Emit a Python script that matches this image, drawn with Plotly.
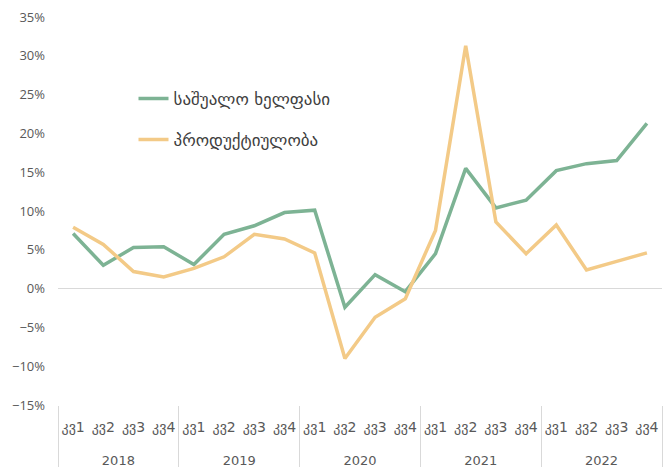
import plotly.graph_objects as go

years = ["2018", "2019", "2020", "2021", "2022"]
quarters = ["კვ1", "კვ2", "კვ3", "კვ4"]
wages = [7.1, 3.0, 5.3, 5.4, 3.1, 7.0, 8.1, 9.8, 10.1, -2.4, 1.8, -0.4,
         4.5, 15.5, 10.4, 11.4, 15.2, 16.1, 16.5, 21.3]
productivity = [7.9, 5.7, 2.2, 1.5, 2.6, 4.1, 7.0, 6.4, 4.6, -9.0, -3.7, -1.3,
                 7.5, 31.3, 8.6, 4.5, 8.2, 2.4, 3.5, 4.6]
name_wages = "საშუალო ხელფასი"
name_prod = "პროდუქტიულობა"

x_outer = ["<br><span style='font-size:13px'>" + y + "</span>" for y in years for _ in quarters]
x_inner = ["<span style='font-size:14px'>" + q + "</span>" for _ in years for q in quarters]

fig = go.Figure()
fig.add_trace(go.Scatter(x=[x_outer, x_inner], y=wages, mode="lines", name=name_wages,
                         line=dict(color="#7DB394", width=3.5), legend="legend"))
fig.add_trace(go.Scatter(x=[x_outer, x_inner], y=productivity, mode="lines", name=name_prod,
                         line=dict(color="#F3CA87", width=3.5), legend="legend2"))

font_fam = "DejaVu Sans, sans-serif"
fig.update_layout(
    width=663, height=467,
    margin=dict(l=58, r=1, t=17, b=62, autoexpand=False),
    plot_bgcolor="white", paper_bgcolor="white",
    font=dict(family=font_fam, color="#595959", size=13),
    legend=dict(x=0.125, y=0.789, xanchor="left", yanchor="middle",
                font=dict(size=17, color="#404040"), bgcolor="rgba(0,0,0,0)"),
    legend2=dict(x=0.125, y=0.683, xanchor="left", yanchor="middle",
                 font=dict(size=17, color="#404040"), bgcolor="rgba(0,0,0,0)"),
    showlegend=True,
)
fig.update_yaxes(range=[-15, 35], dtick=5, ticksuffix="%", showgrid=False,
                 zeroline=True, zerolinecolor="#D9D9D9", zerolinewidth=1,
                 showline=False, automargin=False, ticklabelstandoff=12,
                 tickfont=dict(family="Open Sans, sans-serif", size=13, color="#595959"))
fig.update_xaxes(type="multicategory", range=[-0.5, 19.5], showgrid=False, showline=False,
                 showdividers=True, dividercolor="#D9D9D9", dividerwidth=1,
                 automargin=False, tickangle=0, ticklabelstandoff=8,
                 tickfont=dict(size=18, color="#595959"), ticks="")

fig.write_html("out.html", config={"displayModeBar": False},
               post_script="document.body.style.margin='0px';document.body.style.overflow='hidden';")
